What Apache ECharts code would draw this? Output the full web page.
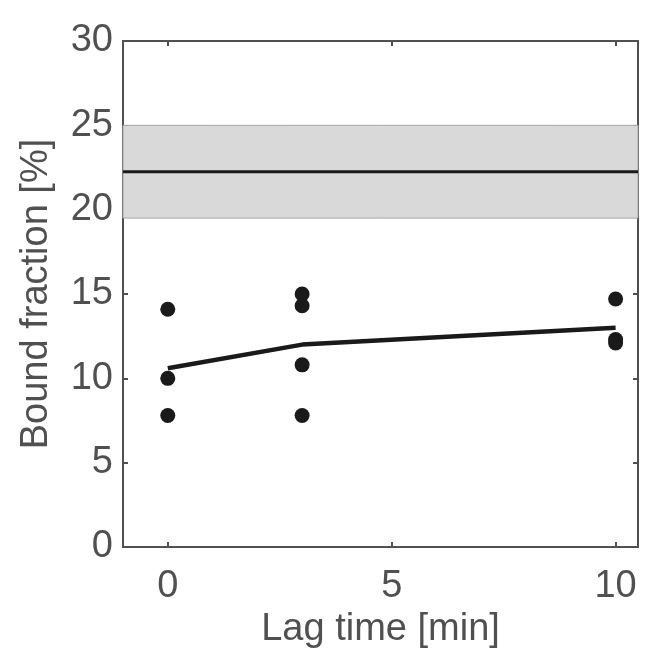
<!DOCTYPE html>
<html>
<head>
<meta charset="utf-8">
<script src="https://cdn.jsdelivr.net/npm/echarts@6/dist/echarts.min.js"></script>
<style>
  html, body { margin: 0; padding: 0; background: #fff; }
  #chart { width: 662px; height: 669px; }
</style>
</head>
<body>
<div id="chart"></div>
<script>
  // lag times and the measured bound fractions (%)
  const lagTimes = [0, 3, 10];
  const pointsLag0 = [14.1, 10.0, 7.8];
  const pointsLag3 = [15.0, 14.3, 10.8, 7.8];
  const pointsLag10 = [14.7, 12.3, 12.1];
  const meanValues = [10.6, 12.0, 13.0];
  // reference level with its band
  const refMean = 22.25;
  const refLow = 19.5;
  const refHigh = 25.0;
  const xTicks = [0, 5, 10];
  const yTicks = [0, 5, 10, 15, 20, 25, 30];

  const xMin = -1, xMax = 10.5;
  const axisColor = '#505050';
  const font = 'Liberation Sans';
  const fontSize = 38;

  let scatterData = [];
  pointsLag0.forEach(v => scatterData.push([lagTimes[0], v]));
  pointsLag3.forEach(v => scatterData.push([lagTimes[1], v]));
  pointsLag10.forEach(v => scatterData.push([lagTimes[2], v]));

  const chart = echarts.init(document.getElementById('chart'));
  const tickStyle = { show: true, inside: true, length: 5, lineStyle: { color: axisColor, width: 2 } };
  const lineStyle = { show: true, onZero: false, lineStyle: { color: axisColor, width: 2 } };

  let option = {
    animation: false,
    grid: { left: 123, right: 24, top: 41, bottom: 122 },
    xAxis: [
      {
        type: 'value', min: xMin, max: xMax, position: 'bottom',
        name: 'Lag time [min]', nameLocation: 'middle', nameGap: 64,
        nameTextStyle: { color: axisColor, fontSize: fontSize, fontFamily: font },
        axisLine: lineStyle,
        axisTick: Object.assign({ customValues: xTicks }, tickStyle),
        axisLabel: { customValues: xTicks, color: axisColor, fontSize: fontSize, fontFamily: font, margin: 21 },
        splitLine: { show: false }
      },
      {
        type: 'value', min: xMin, max: xMax, position: 'top',
        axisLine: lineStyle,
        axisTick: Object.assign({ customValues: xTicks }, tickStyle),
        axisLabel: { show: false },
        splitLine: { show: false }
      }
    ],
    yAxis: [
      {
        type: 'value', min: 0, max: 30, position: 'left',
        name: 'Bound fraction [%]', nameLocation: 'middle', nameGap: 67,
        nameTextStyle: { color: axisColor, fontSize: fontSize, fontFamily: font },
        axisLine: lineStyle,
        axisTick: Object.assign({ customValues: yTicks }, tickStyle),
        axisLabel: { customValues: yTicks, color: axisColor, fontSize: fontSize, fontFamily: font, margin: 10 },
        splitLine: { show: false }
      },
      {
        type: 'value', min: 0, max: 30, position: 'right',
        axisLine: lineStyle,
        axisTick: Object.assign({ customValues: yTicks }, tickStyle),
        axisLabel: { show: false },
        splitLine: { show: false }
      }
    ],
    series: [
      {
        type: 'line',
        data: [[xMin, refMean], [xMax, refMean]],
        symbol: 'none',
        lineStyle: { color: '#1a1a1a', width: 3 },
        z: 3,
        markArea: {
          silent: true,
          itemStyle: { color: '#d9d9d9', borderColor: '#a6a6a6', borderWidth: 1 },
          data: [[{ yAxis: refLow }, { yAxis: refHigh }]]
        }
      },
      {
        type: 'line',
        data: lagTimes.map((t, i) => [t, meanValues[i]]),
        symbol: 'none',
        lineStyle: { color: '#1a1a1a', width: 4.5 },
        z: 3
      },
      {
        type: 'scatter',
        data: scatterData,
        symbol: 'circle',
        symbolSize: 15,
        itemStyle: { color: '#1a1a1a', opacity: 1 },
        z: 4
      }
    ]
  };
  chart.setOption(option);
</script>
</body>
</html>
